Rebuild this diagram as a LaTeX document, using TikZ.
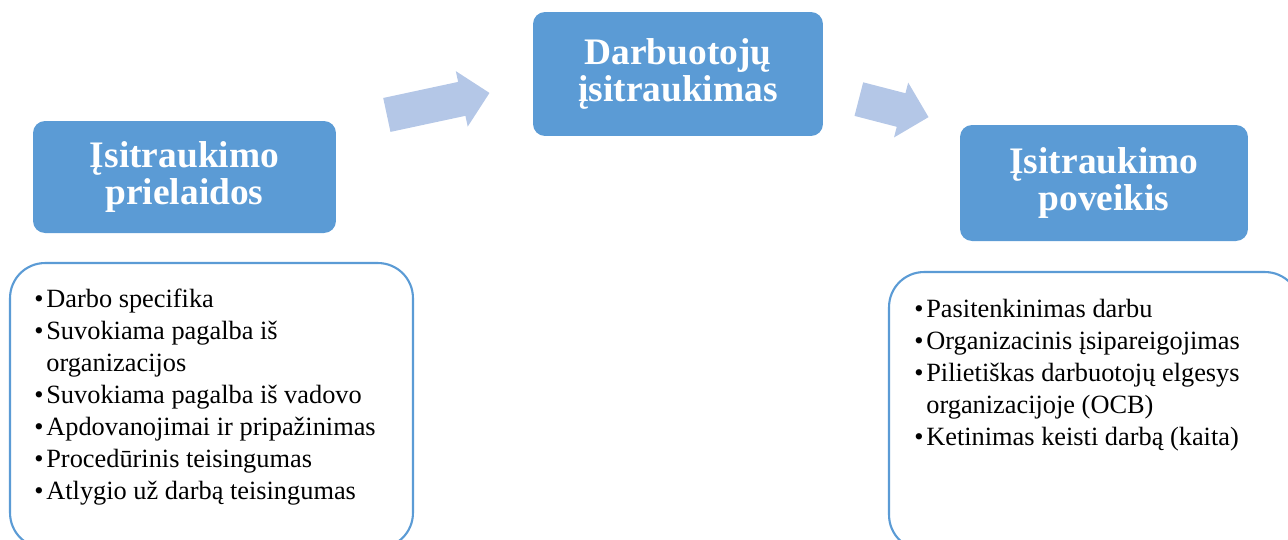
\documentclass[tikz,border=0pt]{standalone}
\usepackage{fontspec}
\setmainfont{Liberation Serif}
\usetikzlibrary{shapes.arrows,positioning}

\definecolor{hdrblue}{RGB}{91,155,213}
\definecolor{arrowblue}{RGB}{180,199,231}

\newcommand{\itembullet}{\makebox[0.24cm][l]{\textbullet}}
\newcommand{\itemcont}{\hspace*{0.24cm}}

\begin{document}
\begin{tikzpicture}[x=0.02cm,y=-0.02cm,
  hdr/.style={fill=hdrblue,rounded corners=0.24cm,text=white,align=center,
    font=\fontsize{21.3}{21.2}\selectfont\bfseries},
  listbox/.style={draw=hdrblue,line width=1.2pt,rounded corners=0.7cm,fill=white},
  listtext/.style={align=left,inner sep=0pt,anchor=north west,
    font=\fontsize{15}{18.2}\selectfont},
  blockarrow/.style={single arrow,fill=arrowblue,draw=none,inner xsep=0pt,inner ysep=0.34cm,
    minimum height=#1,single arrow head extend=0.22cm,anchor=tail}]
\useasboundingbox (0,0) rectangle (1288,539);

% headings
\node[hdr,minimum width=6.06cm,minimum height=2.24cm] (pre) at (184.5,177) {Įsitraukimo\\prielaidos};
\node[hdr,minimum width=5.8cm,minimum height=2.48cm] (eng) at (678,74) {Darbuotojų\\įsitraukimas};
\node[hdr,minimum width=5.76cm,minimum height=2.32cm] (eff) at (1104,183) {Įsitraukimo\\poveikis};

% block arrows
\node[blockarrow=2.1cm,rotate=12.1] (arrA) at (386.5,115) {};
\node[blockarrow=1.44cm,rotate=-14.5] (arrB) at (858.5,99) {};

% lists
\node[listbox,minimum width=8.06cm,minimum height=5.7cm] (prebox) at (211.5,405.5) {};
\node[listbox,minimum width=8.22cm,minimum height=5.56cm] (effbox) at (1094.5,411) {};

\node[listtext] (pretxt) at ([shift={(25,27)}]prebox.north west) {%
\itembullet Darbo specifika\\
\itembullet Suvokiama pagalba iš\\
\itemcont organizacijos\\
\itembullet Suvokiama pagalba iš vadovo\\
\itembullet Apdovanojimai ir pripažinimas\\
\itembullet Procedūrinis teisingumas\\
\itembullet Atlygio už darbą teisingumas};

\node[listtext] (efftxt) at ([shift={(26,28)}]effbox.north west) {%
\itembullet Pasitenkinimas darbu\\
\itembullet Organizacinis įsipareigojimas\\
\itembullet Pilietiškas darbuotojų elgesys\\
\itemcont organizacijoje (OCB)\\
\itembullet Ketinimas keisti darbą (kaita)};
\end{tikzpicture}
\end{document}
